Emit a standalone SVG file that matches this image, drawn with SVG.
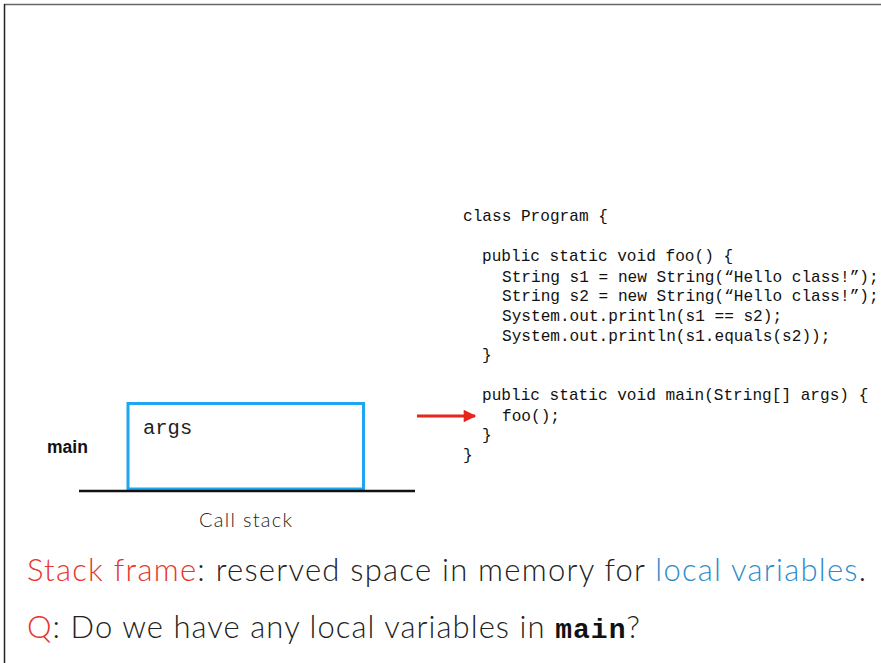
<svg xmlns="http://www.w3.org/2000/svg" width="881" height="663" viewBox="0 0 881 663">
<defs>
<style>
.code{font-family:"Liberation Mono","Courier New",monospace;font-size:16.1px;fill:#111}
.lbl{font-family:"Liberation Sans",Arial,sans-serif;font-weight:bold;font-size:17.5px;fill:#111}
.light{font-family:Lato,"Open Sans",sans-serif;font-weight:300;fill:#222}
.red{fill:#E8352B}
.blue{fill:#2E8BCB}
</style>
<marker id="ah" viewBox="0 0 10 10" refX="9" refY="5" markerWidth="5" markerHeight="4.2" markerUnits="strokeWidth" orient="auto">
<path d="M0,0 L10,5 L0,10 Z" fill="#E8251C"/>
</marker>
</defs>
<rect width="881" height="663" fill="#fff"/>
<g id="frame">
<line x1="4" y1="4.5" x2="881" y2="4.5" stroke="#666" stroke-width="1.5"/>
<line x1="4.5" y1="4" x2="4.5" y2="663" stroke="#222" stroke-width="1.5"/>
</g>
<g id="code">
<text class="code" x="463" y="221">class Program {</text>
<text class="code" x="482" y="261">public static void foo() {</text>
<text class="code" x="502" y="282">String s1 = new String(“Hello class!”);</text>
<text class="code" x="502" y="301">String s2 = new String(“Hello class!”);</text>
<text class="code" x="502" y="321">System.out.println(s1 == s2);</text>
<text class="code" x="502" y="341">System.out.println(s1.equals(s2));</text>
<text class="code" x="482" y="360">}</text>
<text class="code" x="482" y="400">public static void main(String[] args) {</text>
<text class="code" x="502" y="421">foo();</text>
<text class="code" x="482" y="440">}</text>
<text class="code" x="463" y="460">}</text>
</g>
<g id="main-frame">
<rect x="128" y="403.5" width="235.5" height="85.5" fill="#fff" stroke="#1EA6F0" stroke-width="3"/>
<text x="143" y="434" style="font-family:'Liberation Mono','Courier New',monospace;font-size:20.5px;fill:#222">args</text>
<text class="lbl" x="47" y="453">main</text>
</g>
<g id="stack-base">
<line x1="79" y1="491" x2="415" y2="491" stroke="#111" stroke-width="2.5"/>
<text class="light" x="199" y="527" font-size="20" textLength="93" lengthAdjust="spacing">Call stack</text>
</g>
<g id="connectors">
<line x1="417" y1="416" x2="475" y2="416" stroke="#E8251C" stroke-width="3" marker-end="url(#ah)"/>
</g>
<g id="captions">
<text class="light" x="27" y="581" font-size="31" textLength="839" lengthAdjust="spacing"><tspan class="red">Stack frame</tspan>: reserved space in memory for <tspan class="blue">local variables</tspan>.</text>
<text class="light" x="27" y="638" font-size="31" textLength="613" lengthAdjust="spacing"><tspan class="red">Q</tspan>: Do we have any local variables in <tspan style="font-family:'Liberation Mono','Courier New',monospace;font-weight:bold;font-size:28px;fill:#111">main</tspan>?</text>
</g>
</svg>
